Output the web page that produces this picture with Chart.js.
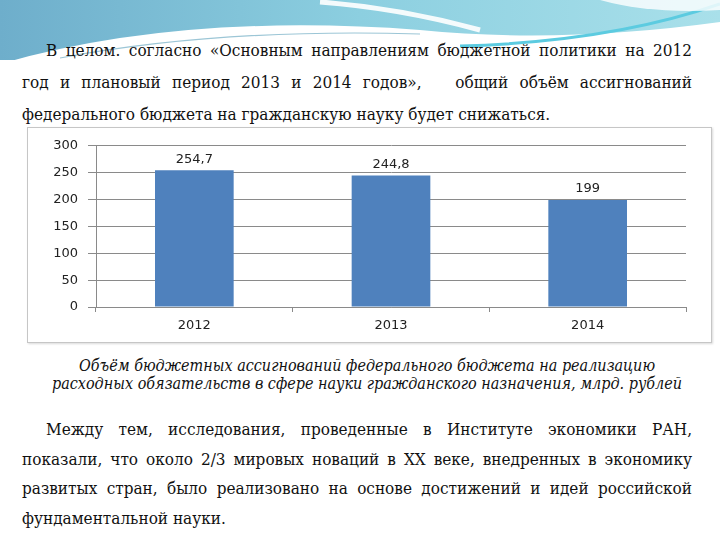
<!DOCTYPE html>
<html lang="ru">
<head>
<meta charset="utf-8">
<script src="https://cdn.jsdelivr.net/npm/chart.js@4.4.1/dist/chart.umd.min.js"></script>
<style>
  html, body { margin: 0; padding: 0; background: #fff; }
  body { width: 720px; height: 540px; position: relative; overflow: hidden; color: #111; font-family: "DejaVu Serif Condensed", "DejaVu Serif", serif; }
  #header { position: absolute; left: 0; top: 0; }
  .para { position: absolute; left: 22px; width: 670px; font-size: 17px; }
  .para div { text-align: justify; text-align-last: justify; white-space: nowrap; }
  .para div.last { text-align-last: left; }
  .para div.indent { padding-left: 24px; }
  #topText { top: 34px; line-height: 32px; }
  #bottomText { top: 415px; line-height: 29.5px; }
  #caption { position: absolute; left: 22px; width: 690px; top: 357px; text-align: center; font-style: italic; font-size: 16px; line-height: 18px; }
  #chartBox { position: absolute; left: 27px; top: 127px; width: 683px; height: 214px; border: 1px solid #c6c6c6; box-shadow: 1px 1px 2px rgba(0,0,0,0.15); background: #fff; }
</style>
</head>
<body>
<svg id="header" width="720" height="70" viewBox="0 0 720 70">
  <defs>
    <linearGradient id="sky" x1="0" y1="0" x2="1" y2="0">
      <stop offset="0" stop-color="#6eaecb"/>
      <stop offset="0.5" stop-color="#8ccfe0"/>
      <stop offset="1" stop-color="#a9e0ea"/>
    </linearGradient>
  </defs>
  <rect x="0" y="0" width="720" height="60" fill="url(#sky)"/>
  <path d="M0,70 L0,64 Q180,12 420,30 Q560,44 720,22 L720,70 Z" fill="#ffffff"/>
  <path d="M60,58 Q220,28 420,34" stroke="#9cc6d6" stroke-width="1.2" fill="none"/>
  <path d="M460,46 Q610,42 720,4" stroke="#5ccbe0" stroke-width="3" fill="none"/>
  <path d="M600,0 Q650,14 720,10 L720,0 Z" fill="#ffffff" opacity="0.8"/>
  <path d="M320,2 Q400,8 480,30" stroke="#ffffff" stroke-width="5" fill="none" opacity="0.9"/>
</svg>

<div id="topText" class="para">
  <div class="indent">В целом. согласно «Основным направлениям бюджетной политики на 2012</div>
  <div>год и плановый период 2013 и 2014 годов»,&nbsp;&nbsp; общий объём ассигнований</div>
  <div class="last">федерального бюджета на гражданскую науку будет снижаться.</div>
</div>

<div id="chartBox"><canvas id="budgetChart" width="683" height="214"></canvas></div>

<div id="caption">Объём бюджетных ассигнований федерального бюджета на реализацию<br>расходных обязательств в сфере науки гражданского назначения, млрд. рублей</div>

<div id="bottomText" class="para">
  <div class="indent">Между тем, исследования, проведенные в Институте экономики РАН,</div>
  <div>показали, что около 2/3 мировых новаций в XX веке, внедренных в экономику</div>
  <div>развитых стран, было реализовано на основе достижений и идей российской</div>
  <div class="last">фундаментальной науки.</div>
</div>

<script>
// Bar chart data: budget allocations, bln roubles
const years = ['2012', '2013', '2014'];
const allocations = [254.7, 244.8, 199];
const yTicks = [0, 50, 100, 150, 200, 250, 300];

const gridGray = '#8a8a8a';
const tickFont = { family: '"DejaVu Sans", Verdana, sans-serif', size: 13 };

// value labels above bars, decimal comma like the original
const valueLabels = {
    id: 'valueLabels',
    afterDatasetsDraw(chart) {
        const { ctx } = chart;
        const meta = chart.getDatasetMeta(0);
        ctx.save();
        ctx.font = '13px "DejaVu Sans", Verdana, sans-serif';
        ctx.fillStyle = '#222';
        ctx.textAlign = 'center';
        ctx.textBaseline = 'middle';
        meta.data.forEach((bar, i) => {
            const txt = String(allocations[i]).replace('.', ',');
            ctx.fillText(txt, bar.x, bar.y - 11);
        });
        ctx.restore();
    }
};

new Chart(document.getElementById('budgetChart'), {
    type: 'bar',
    data: {
        labels: years,
        datasets: [{
            data: allocations,
            backgroundColor: '#4f81bd',
            borderWidth: 0,
            categoryPercentage: 1,
            barPercentage: 0.4
        }]
    },
    plugins: [valueLabels],
    options: {
        responsive: false,
        animation: false,
        layout: { padding: { left: 0, right: 25, top: 11, bottom: 0 } },
        plugins: { legend: { display: false }, tooltip: { enabled: false } },
        scales: {
            y: {
                min: 0,
                max: 300,
                afterBuildTicks(scale) {
                    scale.ticks = yTicks.map(v => ({ value: v }));
                },
                afterFit(scale) { scale.width = 68; },
                grid: { color: gridGray, tickLength: 8, drawTicks: true },
                border: { color: gridGray },
                ticks: { color: '#222', font: tickFont, padding: 10 }
            },
            x: {
                afterFit(scale) { scale.height = 35; },
                grid: { offset: true, drawOnChartArea: false, tickLength: 5, color: gridGray },
                border: { color: gridGray },
                ticks: { color: '#222', font: tickFont, padding: 6 }
            }
        }
    }
});
</script>
</body>
</html>
